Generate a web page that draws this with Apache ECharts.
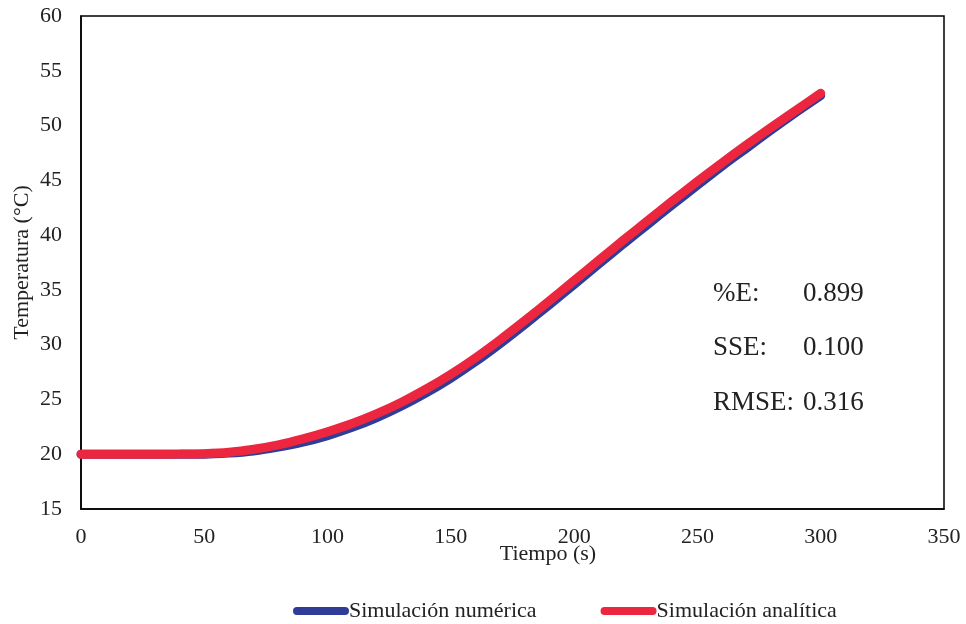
<!DOCTYPE html>
<html>
<head>
<meta charset="utf-8">
<script src="https://cdn.jsdelivr.net/npm/echarts@6/dist/echarts.min.js"></script>
<style>html,body{margin:0;padding:0;background:#fff}#c{width:966px;height:624px}</style>
</head>
<body>
<div id="c"></div>
<script>
var tiempo = [0,10,20,30,40,50,60,70,80,90,100,110,120,130,140,150,160,170,180,190,200,210,220,230,240,250,260,270,280,290,300];
var numerica = [20,20,20,20,20,20,20.1,20.3,20.65,21.1,21.7,22.45,23.35,24.4,25.6,26.95,28.45,30.1,31.85,33.65,35.5,37.35,39.2,41.0,42.8,44.55,46.3,47.95,49.6,51.2,52.75];
var analitica = [20,20,20,20,20.01,20.05,20.18,20.45,20.85,21.4,22.05,22.8,23.7,24.75,25.95,27.3,28.8,30.45,32.2,34.0,35.85,37.7,39.55,41.35,43.15,44.9,46.6,48.25,49.85,51.4,52.95];
var xTicks = [0,50,100,150,200,250,300,350];
var yTicks = [15,20,25,30,35,40,45,50,55,60];
var stats = [["%E:", "0.899"], ["SSE:", "0.100"], ["RMSE:", "0.316"]];

var font = "'Liberation Serif','Times New Roman',serif";
function pairs(xs, ys){ return xs.map(function(x,i){ return [x, ys[i]]; }); }

var chart = echarts.init(document.getElementById('c'), null, {renderer:'canvas'});
var graphics = [];
var rowsY = [292, 346, 401];
stats.forEach(function(s, i){
  graphics.push({type:'text', left:713, top:rowsY[i]-12, style:{text:s[0], font:"27px "+font, fill:'#222'}});
  graphics.push({type:'text', left:803, top:rowsY[i]-12, style:{text:s[1], font:"27px "+font, fill:'#222'}});
});
chart.setOption({
  backgroundColor:'#fff',
  animation:false,
  grid:{left:81, right:22, top:16, bottom:115, show:true, borderColor:'#000', borderWidth:1.5, backgroundColor:'transparent'},
  xAxis:{type:'value', min:xTicks[0], max:xTicks[xTicks.length-1], interval:50,
    name:'Tiempo (s)', nameLocation:'middle', nameGap:34, nameMoveOverlap:false,
    nameTextStyle:{fontFamily:font, fontSize:22, color:'#222', padding:[0,0,0,71]},
    axisLine:{show:true, lineStyle:{color:'#000', width:1.5}}, axisTick:{show:false},
    splitLine:{show:false},
    axisLabel:{fontFamily:font, fontSize:22, color:'#222', margin:17}},
  yAxis:{type:'value', min:yTicks[0], max:yTicks[yTicks.length-1], interval:5,
    name:'Temperatura (°C)', nameLocation:'middle', nameGap:48, nameMoveOverlap:false,
    nameTextStyle:{fontFamily:font, fontSize:22, color:'#222'},
    axisLine:{show:true, lineStyle:{color:'#000', width:1.5}}, axisTick:{show:false},
    splitLine:{show:false},
    axisLabel:{fontFamily:font, fontSize:22, color:'#222', margin:19}},
  legend:{top:595, left:288, itemWidth:56, itemHeight:8, itemGap:64,
    icon:'path://M4,0 H52 A4,4 0 0 1 52,8 H4 A4,4 0 0 1 4,0 Z',
    textStyle:{fontFamily:font, fontSize:22, color:'#222', padding:[0,0,0,-5]},
    data:['Simulación numérica','Simulación analítica']},
  graphic:graphics,
  series:[
    {name:'Simulación numérica', type:'line', data:pairs(tiempo, numerica), showSymbol:false, smooth:0.3,
      lineStyle:{color:'#2F3D99', width:9, cap:'round'}, itemStyle:{color:'#2F3D99'}},
    {name:'Simulación analítica', type:'line', data:pairs(tiempo, analitica), showSymbol:false, smooth:0.3,
      lineStyle:{color:'#ED2640', width:9, cap:'round'}, itemStyle:{color:'#ED2640'}}
  ]
});
</script>
</body>
</html>
